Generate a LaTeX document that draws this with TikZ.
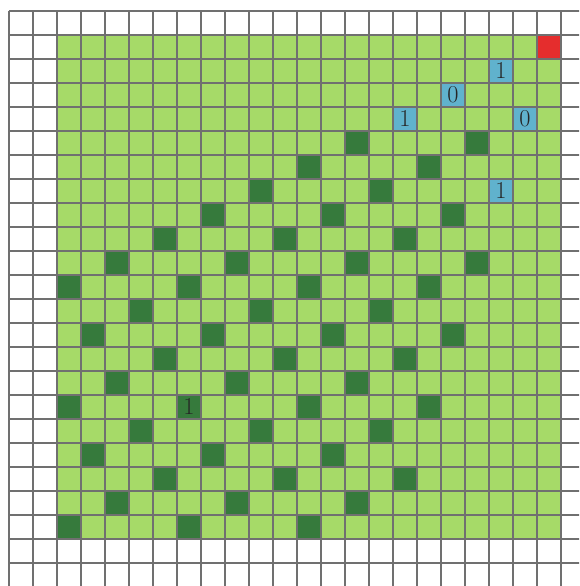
\documentclass[tikz,border=0pt]{standalone}
\usepackage{tikz}
\usetikzlibrary{positioning}
\definecolor{grass}{RGB}{166,218,104}
\definecolor{forest}{RGB}{54,122,60}
\definecolor{sky}{RGB}{96,178,205}
\definecolor{flag}{RGB}{229,45,45}
\definecolor{rule}{RGB}{112,112,112}

\begin{document}
\begin{tikzpicture}[scale=0.6,
  darkcell/.style={fill=forest},
  bluecell/.style={fill=sky},
  redcell/.style={fill=flag},
  digit/.style={font=\fontsize{19}{22}\selectfont, text=black!85, inner sep=0pt}]
  \useasboundingbox (-2.375,-1.958) rectangle (21.75,22.458);
  \clip (-2.375,-1.958) rectangle (21.75,22.458);
  \fill[grass] (0,0) rectangle (21,21);
%---------------------------------------------------------------------------
  \fill[redcell] (20,20) rectangle ++(1,1);
  \fill[bluecell] (18,19) rectangle ++(1,1);
  \fill[bluecell] (16,18) rectangle ++(1,1);
  \fill[bluecell] (14,17) rectangle ++(1,1) (19,17) rectangle ++(1,1);
  \fill[bluecell] (18,14) rectangle ++(1,1);
%---------------------------------------------------------------------------
  \fill[darkcell] (12,16) rectangle ++(1,1) (17,16) rectangle ++(1,1);
  \fill[darkcell] (10,15) rectangle ++(1,1) (15,15) rectangle ++(1,1);
  \fill[darkcell] (8,14) rectangle ++(1,1) (13,14) rectangle ++(1,1);
  \fill[darkcell] (6,13) rectangle ++(1,1) (11,13) rectangle ++(1,1) (16,13) rectangle ++(1,1);
  \fill[darkcell] (4,12) rectangle ++(1,1) (9,12) rectangle ++(1,1) (14,12) rectangle ++(1,1);
  \fill[darkcell] (2,11) rectangle ++(1,1) (7,11) rectangle ++(1,1) (12,11) rectangle ++(1,1) (17,11) rectangle ++(1,1);
  \fill[darkcell] (0,10) rectangle ++(1,1) (5,10) rectangle ++(1,1) (10,10) rectangle ++(1,1) (15,10) rectangle ++(1,1);
  \fill[darkcell] (3,9) rectangle ++(1,1) (8,9) rectangle ++(1,1) (13,9) rectangle ++(1,1);
  \fill[darkcell] (1,8) rectangle ++(1,1) (6,8) rectangle ++(1,1) (11,8) rectangle ++(1,1) (16,8) rectangle ++(1,1);
  \fill[darkcell] (4,7) rectangle ++(1,1) (9,7) rectangle ++(1,1) (14,7) rectangle ++(1,1);
  \fill[darkcell] (2,6) rectangle ++(1,1) (7,6) rectangle ++(1,1) (12,6) rectangle ++(1,1);
  \fill[darkcell] (0,5) rectangle ++(1,1) (5,5) rectangle ++(1,1) (10,5) rectangle ++(1,1) (15,5) rectangle ++(1,1);
  \fill[darkcell] (3,4) rectangle ++(1,1) (8,4) rectangle ++(1,1) (13,4) rectangle ++(1,1);
  \fill[darkcell] (1,3) rectangle ++(1,1) (6,3) rectangle ++(1,1) (11,3) rectangle ++(1,1);
  \fill[darkcell] (4,2) rectangle ++(1,1) (9,2) rectangle ++(1,1) (14,2) rectangle ++(1,1);
  \fill[darkcell] (2,1) rectangle ++(1,1) (7,1) rectangle ++(1,1) (12,1) rectangle ++(1,1);
  \fill[darkcell] (0,0) rectangle ++(1,1) (5,0) rectangle ++(1,1) (10,0) rectangle ++(1,1);
%---------------------------------------------------------------------------
  \draw[rule, line width=0.8pt, step=1] (-2,-2) grid (22,22);
%---------------------------------------------------------------------------
  \node[digit] (b1) at (18.5,19.5) {$1$};
  \node[digit] (b2) at (16.5,18.5) {$0$};
  \node[digit] (b3) at (14.5,17.5) {$1$};
  \node[digit] (b4) at (19.5,17.5) {$0$};
  \node[digit] (b5) at (18.5,14.5) {$1$};
  \node[digit] (d1) at (5.5,5.5) {$1$};
\end{tikzpicture}
\end{document}
